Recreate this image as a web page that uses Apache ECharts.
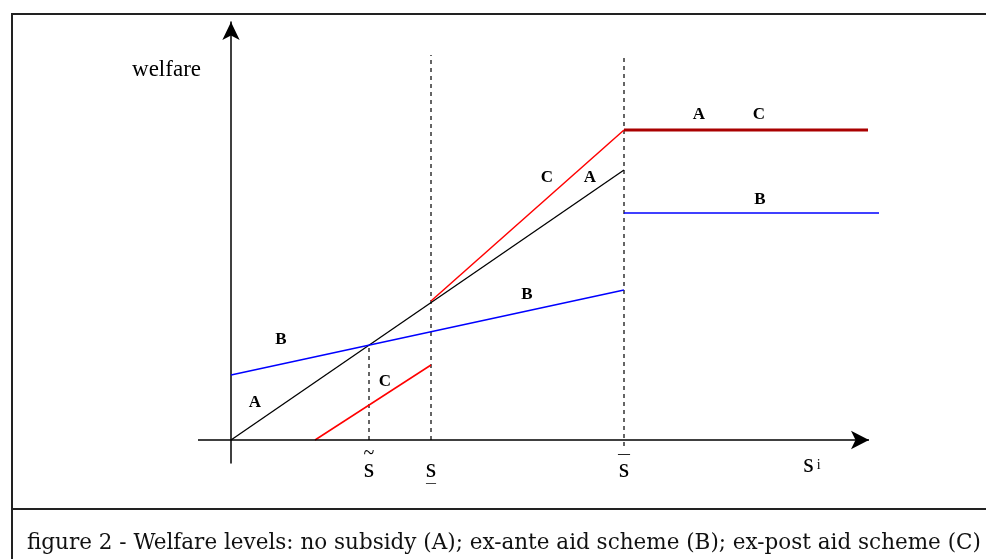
<!DOCTYPE html>
<html><head><meta charset="utf-8">
<script src="https://cdn.jsdelivr.net/npm/echarts@6/dist/echarts.min.js"></script>
<style>html,body{margin:0;padding:0;background:#fff}#c{width:986px;height:559px}</style>
</head><body><div id="c"></div>
<script>
// data in schematic units (origin at the axes crossing)
var lineA = [[0, 0], [393, 270]];
var lineB1 = [[0, 65], [393, 150]];
var lineB2 = [[393, 227], [648, 227]];
var lineC1 = [[84, 0], [200, 75]];
var lineC2 = [[200, 139], [393, 310]];
var lineC3 = [[393, 310], [637, 310]];
var dashTilde = [[138, 0], [138, 95]];
var dashLow = [[200, 0], [200, 385]];
var dashBar = [[393, -6], [393, 385]];
var xAxisExtent = [[-33, 0], [638, 0]];
var tickValues = [138, 200, 393, 581];
var tickLabels = [
  '{t|~}\n{s|s}\n{e| }',
  '{e| }\n{s|s}\n{u|\u2014}',
  '{b|\u2014}\n{s|s}\n{e| }',
  '{e2| }\n{s|s}{i|i}\n{e| }'
];
var letterLabels = [
  [468, 325, 'A'], [528, 325, 'C'],
  [316, 262, 'C'], [359, 262, 'A'],
  [529, 240, 'B'],
  [296, 145, 'B'],
  [50, 100, 'B'],
  [154, 58, 'C'],
  [24, 37, 'A']
];
var yTitle = 'welfare';
var caption = 'figure 2 - Welfare levels: no subsidy (A); ex-ante aid scheme (B); ex-post aid scheme (C)';

var chart = echarts.init(document.getElementById('c'), null, {renderer: 'canvas'});
function ln(data, color, width, type) {
  return {type: 'line', data: data, symbol: 'none', clip: false, animation: false, silent: true,
    lineStyle: {color: color, width: width, type: type || 'solid'}};
}
var F = 'Liberation Serif';
chart.setOption({
  animation: false,
  grid: {left: 198, top: 22, width: 681, height: 441},
  xAxis: {type: 'value', min: -33, max: 648,
    axisLine: {show: false, onZero: true},
    axisTick: {show: false}, splitLine: {show: false},
    axisLabel: {customValues: tickValues, margin: -14, color: '#000',
      formatter: function (v) { return tickLabels[tickValues.indexOf(v)] || ''; },
      rich: {
        s: {fontFamily: F, fontSize: 27, lineHeight: 22, color: '#000'},
        t: {fontFamily: F, fontSize: 20, lineHeight: 10, color: '#000'},
        b: {fontFamily: F, fontSize: 12, lineHeight: 10, color: '#000', fontWeight: 'bold'},
        u: {fontFamily: F, fontSize: 10, lineHeight: 4, color: '#000', fontWeight: 'bold'},
        e: {fontFamily: F, fontSize: 8, lineHeight: 10, color: '#000'},
        e2: {fontFamily: F, fontSize: 5, lineHeight: 5, color: '#000'},
        i: {fontFamily: F, fontSize: 14, lineHeight: 22, color: '#000', padding: [0, 0, 0, 3]}
      }}
  },
  yAxis: {type: 'value', min: -23, max: 418,
    axisLine: {onZero: true, symbol: ['none', 'arrow'], symbolSize: [13, 18],
      lineStyle: {color: '#000', width: 1.5}},
    axisTick: {show: false}, splitLine: {show: false}, axisLabel: {show: false}
  },
  series: [
    ln(dashTilde, '#000', 1.2, [4, 4]),
    ln(dashLow, '#000', 1.2, [4, 4]),
    ln(dashBar, '#000', 1.2, [4, 4]),
    ln(lineA, '#000', 1.3),
    ln(lineB1, '#0000ff', 1.5),
    ln(lineB2, '#0000ff', 1.5),
    ln(lineC1, '#ff0000', 1.5),
    ln(lineC2, '#ff0000', 1.5),
    ln(lineC3, '#aa0000', 3),
    {type: 'line', data: [], symbol: 'none', silent: true, animation: false,
      markLine: {silent: true, animation: false, symbol: ['none', 'arrow'], symbolSize: [14, 18],
        label: {show: false}, lineStyle: {color: '#000', width: 1.5, type: 'solid'},
        data: [[{coord: xAxisExtent[0]}, {coord: xAxisExtent[1]}]]}},
    {type: 'scatter', symbol: 'circle', symbolSize: 0, animation: false, silent: true, clip: false,
      itemStyle: {color: 'rgba(0,0,0,0)', opacity: 1},
      data: letterLabels.map(function (d) { return {value: [d[0], d[1]], name: d[2]}; }),
      label: {show: true, position: [0, 0], align: 'center', verticalAlign: 'middle',
        formatter: '{L|{b}}',
        rich: {L: {fontFamily: F, fontWeight: 'bold', fontSize: 17, color: '#000'}}}}
  ],
  graphic: [
    {type: 'rect', shape: {x: 12, y: 14, width: 990, height: 560}, style: {fill: 'none', stroke: '#222', lineWidth: 2}, silent: true},
    {type: 'line', shape: {x1: 12, y1: 509, x2: 990, y2: 509}, style: {stroke: '#222', lineWidth: 2}, silent: true},
    {type: 'text', x: 201, y: 70, style: {text: yTitle, font: '23px "Liberation Serif"', fill: '#000', align: 'right', verticalAlign: 'middle'}},
    {type: 'text', x: 27, y: 543, style: {text: caption, font: '21.5px "DejaVu Serif"', fill: '#111', align: 'left', verticalAlign: 'middle'}}
  ]
});
</script></body></html>
